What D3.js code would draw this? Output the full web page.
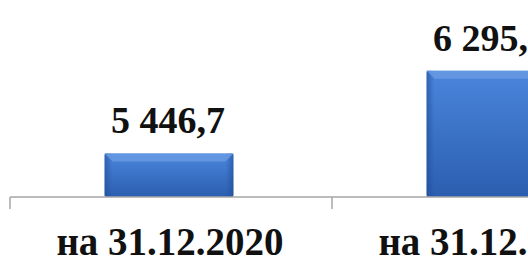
<!DOCTYPE html>
<html>
<head>
<meta charset="utf-8">
<script src="https://cdn.jsdelivr.net/npm/d3@7"></script>
<style>
  html, body { margin: 0; padding: 0; background: #fff; overflow: hidden; }
</style>
</head>
<body>
<div id="chart"></div>
<script>
// data
var categories = ["на 31.12.2020", "на 31.12.2021"];
var values = [5446.7, 6295.3];
var valueLabels = ["5 446,7", "6 295,3"];

var width = 528,
  height = 264,
  axisY = 197,
  fontFam = "Liberation Serif, Times New Roman, serif";

var svg = d3.select("#chart").append("svg")
  .attr("width", width)
  .attr("height", height);

var defs = svg.append("defs");
var grad = defs.append("linearGradient")
  .attr("id", "barGrad")
  .attr("x1", 0).attr("y1", 0).attr("x2", 0).attr("y2", 1);
grad.append("stop").attr("offset", "0%").attr("stop-color", "#4a86dc");
grad.append("stop").attr("offset", "100%").attr("stop-color", "#2b5eaf");

var sideGrad = defs.append("linearGradient")
  .attr("id", "sideGrad")
  .attr("x1", 0).attr("y1", 0).attr("x2", 1).attr("y2", 0);
sideGrad.append("stop").attr("offset", "0%").attr("stop-color", "#1f4c96").attr("stop-opacity", 0.6);
sideGrad.append("stop").attr("offset", "6%").attr("stop-color", "#1f4c96").attr("stop-opacity", 0);
sideGrad.append("stop").attr("offset", "94%").attr("stop-color", "#1f4c96").attr("stop-opacity", 0);
sideGrad.append("stop").attr("offset", "100%").attr("stop-color", "#1f4c96").attr("stop-opacity", 0.6);

// scales
var x = d3.scaleBand()
  .domain(categories)
  .range([10, 10 + 322 * categories.length])
  .padding(0);

var y = d3.scaleLinear()
  .domain([5000, 7000])
  .range([axisY, 2]);

var barW = x.bandwidth() * 0.4;

// bars
var bars = svg.selectAll("g.bar").data(values).enter().append("g")
  .attr("class", "bar");

bars.append("rect")
  .attr("x", function(d, i) { return x(categories[i]) + (x.bandwidth() - barW) / 2 - 2; })
  .attr("y", function(d) { return y(d); })
  .attr("width", barW)
  .attr("height", function(d) { return axisY - y(d); })
  .attr("rx", 2)
  .style("fill", "url(#barGrad)");

bars.append("rect")
  .attr("x", function(d, i) { return x(categories[i]) + (x.bandwidth() - barW) / 2 - 2; })
  .attr("y", function(d) { return y(d); })
  .attr("width", barW)
  .attr("height", function(d) { return axisY - y(d); })
  .style("fill", "url(#sideGrad)");

// top bevel
bars.append("path")
  .attr("d", function(d, i) {
    var x0 = x(categories[i]) + (x.bandwidth() - barW) / 2 - 2,
      y0 = y(d), b = 8;
    return "M" + x0 + "," + y0 + "L" + (x0 + barW) + "," + y0 +
      "L" + (x0 + barW - b) + "," + (y0 + b) + "L" + (x0 + b) + "," + (y0 + b) + "Z";
  })
  .style("fill", "#6a9be3")
  .style("opacity", 0.8);

// axis line and ticks
svg.append("line")
  .attr("x1", 10).attr("x2", width)
  .attr("y1", axisY).attr("y2", axisY)
  .style("stroke", "#a6a6a6").style("stroke-width", 1.5);

svg.selectAll("line.tick").data(categories).enter().append("line")
  .attr("class", "tick")
  .attr("x1", function(d) { return x(d); })
  .attr("x2", function(d) { return x(d); })
  .attr("y1", axisY).attr("y2", axisY + 12)
  .style("stroke", "#a6a6a6").style("stroke-width", 1.5);

// value labels
svg.selectAll("text.val").data(values).enter().append("text")
  .attr("class", "val")
  .attr("x", function(d, i) { return x(categories[i]) + x.bandwidth() / 2 - 3; })
  .attr("y", function(d) { return y(d) - 20; })
  .attr("text-anchor", "middle")
  .attr("font-family", fontFam)
  .attr("font-weight", "bold")
  .attr("font-size", 38)
  .style("fill", "#111")
  .text(function(d, i) { return valueLabels[i]; });

// category labels
svg.selectAll("text.cat").data(categories).enter().append("text")
  .attr("class", "cat")
  .attr("x", function(d) { return x(d) + x.bandwidth() / 2 - 1; })
  .attr("y", 255)
  .attr("text-anchor", "middle")
  .attr("font-family", fontFam)
  .attr("font-weight", "bold")
  .attr("font-size", 39)
  .style("fill", "#111")
  .text(function(d) { return d; });
</script>
</body>
</html>
